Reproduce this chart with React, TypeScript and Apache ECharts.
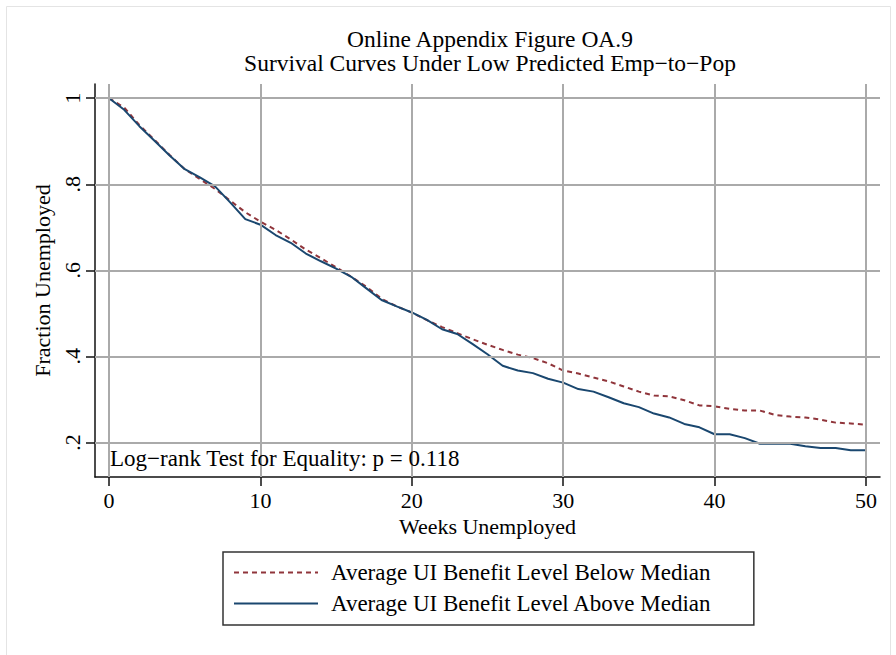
import React, { useEffect, useRef } from "react";
import * as echarts from "echarts";

const weeks = [0, 1, 2, 3, 4, 5, 6, 7, 8, 9, 10, 11, 12, 13, 14, 15, 16, 17, 18, 19, 20, 21, 22, 23, 24, 25, 26, 27, 28, 29, 30, 31, 32, 33, 34, 35, 36, 37, 38, 39, 40, 41, 42, 43, 44, 45, 46, 47, 48, 49, 50];

const belowMedian = [1.0, 0.978, 0.938, 0.903, 0.868, 0.835, 0.812, 0.789, 0.762, 0.735, 0.713, 0.694, 0.672, 0.648, 0.628, 0.607, 0.585, 0.562, 0.534, 0.516, 0.502, 0.484, 0.468, 0.454, 0.44, 0.427, 0.415, 0.404, 0.396, 0.384, 0.367, 0.36, 0.351, 0.342, 0.33, 0.318, 0.309, 0.307, 0.298, 0.286, 0.284, 0.278, 0.274, 0.274, 0.264, 0.26, 0.258, 0.253, 0.246, 0.244, 0.241];

const aboveMedian = [1.0, 0.973, 0.935, 0.901, 0.867, 0.835, 0.816, 0.795, 0.758, 0.719, 0.706, 0.682, 0.664, 0.639, 0.621, 0.604, 0.585, 0.558, 0.531, 0.516, 0.502, 0.485, 0.463, 0.452, 0.429, 0.405, 0.378, 0.367, 0.361, 0.348, 0.339, 0.324, 0.318, 0.305, 0.291, 0.282, 0.267, 0.258, 0.243, 0.235, 0.219, 0.219, 0.21, 0.197, 0.197, 0.197, 0.191, 0.187, 0.187, 0.182, 0.182];

const xTicks = [0, 10, 20, 30, 40, 50];
const yTicks = [0.2, 0.4, 0.6, 0.8, 1];
const yTickLabels = [".2", ".4", ".6", ".8", "1"];

const seriesNames = ["Average UI Benefit Level Below Median", "Average UI Benefit Level Above Median"];
const titleLines = ["Online Appendix Figure OA.9", "Survival Curves Under Low Predicted Emp\u2212to\u2212Pop"];
const noteText = "Log\u2212rank Test for Equality: p = 0.118";

const FONT = '"Liberation Serif", "Times New Roman", serif';
const BLUE = "#1a476f";
const RED = "#90353b";
const GRID = "#aaaaaa";

export default function App() {
  const ref = useRef<HTMLDivElement>(null);
  useEffect(() => {
    if (!ref.current) return;
    const chart = echarts.init(ref.current, undefined, { renderer: "svg" });
    const gridLines = [
      ...xTicks.map((v) => ({ xAxis: v })),
      ...yTicks.map((v) => ({ yAxis: v })),
    ];
    chart.setOption({
      animation: false,
      backgroundColor: "#ffffff",
      textStyle: { fontFamily: FONT },
      title: {
        text: titleLines.join("\n"),
        left: 485,
        top: 22,
        textAlign: "center",
        textStyle: { fontFamily: FONT, fontSize: 23.5, fontWeight: "normal", color: "#000", lineHeight: 24 },
      },
      grid: { left: 95, top: 84, width: 785, height: 393, containLabel: false },
      xAxis: {
        type: "value",
        min: -0.93,
        max: 50.93,
        name: "Weeks Unemployed",
        nameLocation: "middle",
        nameGap: 33,
        nameTextStyle: { fontFamily: FONT, fontSize: 22, color: "#000" },
        axisLine: { show: true, onZero: false, lineStyle: { color: "#111", width: 1.5 } },
        axisTick: { show: true, length: 9, customValues: xTicks, lineStyle: { color: "#111", width: 1.5 } },
        axisLabel: { customValues: xTicks, margin: 12, fontFamily: FONT, fontSize: 22, color: "#000" },
        splitLine: { show: false },
      },
      yAxis: {
        type: "value",
        min: 0.1196,
        max: 1.033,
        name: "Fraction Unemployed",
        nameLocation: "middle",
        nameGap: 41,
        nameTextStyle: { fontFamily: FONT, fontSize: 22, color: "#000" },
        axisLine: { show: true, onZero: false, lineStyle: { color: "#111", width: 1.5 } },
        axisTick: { show: true, length: 9, customValues: yTicks, lineStyle: { color: "#111", width: 1.5 } },
        axisLabel: {
          customValues: yTicks,
          rotate: 90,
          margin: 12,
          fontFamily: FONT,
          fontSize: 22,
          color: "#000",
          formatter: (v: number) => {
            const i = yTicks.findIndex((t) => Math.abs(t - v) < 1e-6);
            return i >= 0 ? yTickLabels[i] : "";
          },
        },
        splitLine: { show: false },
      },
      legend: {
        orient: "vertical",
        left: 223,
        top: 552,
        data: seriesNames,
        itemWidth: 84,
        itemHeight: 20,
        itemGap: 8,
        padding: [9, 42, 10, 10],
        borderColor: "#333",
        borderWidth: 1.5,
        itemStyle: { opacity: 0, borderWidth: 0 },
        textStyle: { fontFamily: FONT, fontSize: 23, color: "#000", padding: [0, 0, 0, 8] },
      },
      graphic: [
        {
          type: "rect",
          shape: { x: 6.5, y: 6.5, width: 884, height: 660 },
          style: { fill: "none", stroke: "#e4e4e4", lineWidth: 1 },
          silent: true,
        },
        {
          type: "text",
          left: 110,
          top: 447,
          style: { text: noteText, fontFamily: FONT, fontSize: 23, fill: "#000" },
          z: 10,
        },
      ],
      series: [
        {
          name: "grid",
          type: "line",
          data: [],
          silent: true,
          z: 1,
          markLine: {
            silent: true,
            symbol: "none",
            label: { show: false },
            lineStyle: { color: GRID, width: 2, type: "solid" },
            emphasis: { disabled: true },
            data: gridLines,
          },
        },
        {
          name: seriesNames[0],
          type: "line",
          data: weeks.map((w, i) => [w, belowMedian[i]]),
          symbol: "none",
          z: 3,
          lineStyle: { color: RED, width: 2, type: [5, 4] },
          itemStyle: { color: RED },
        },
        {
          name: seriesNames[1],
          type: "line",
          data: weeks.map((w, i) => [w, aboveMedian[i]]),
          symbol: "none",
          z: 4,
          lineStyle: { color: BLUE, width: 2, type: "solid" },
          itemStyle: { color: BLUE },
        },
      ],
    });
    return () => chart.dispose();
  }, []);
  return (
    <div
      ref={ref}
      style={{ position: "absolute", left: 0, top: 0, width: 896, height: 655, background: "#fff" }}
    />
  );
}
